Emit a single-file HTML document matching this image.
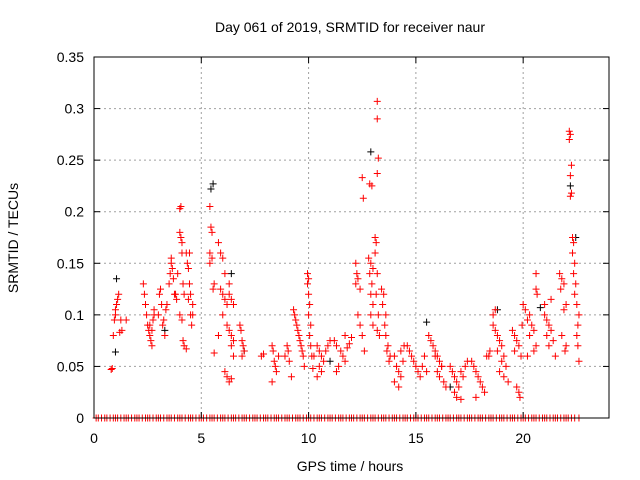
<!DOCTYPE html>
<html><head><meta charset="utf-8"><style>
body{margin:0;background:#fff;}
svg{display:block;font-family:"Liberation Sans",sans-serif;}
</style></head><body>
<svg id="chart" width="640" height="480" xmlns="http://www.w3.org/2000/svg">
<rect x="0" y="0" width="640" height="480" fill="#fff"/>
<g id="grid"></g>
<g id="black"></g>
<g id="red"></g>
<g id="axes"></g>
<text x="350" y="32" text-anchor="middle" font-size="14">Day 061 of 2019, SRMTID for receiver naur</text>
<text x="350" y="471" text-anchor="middle" font-size="14">GPS time / hours</text>
<text transform="translate(18,238) rotate(-90)" text-anchor="middle" font-size="14">SRMTID / TECUs</text>
</svg>
<script>
const xTicks=[0,5,10,15,20];
const yTicks=[0,0.05,0.1,0.15,0.2,0.25,0.3,0.35];
const yTickLabels=["0","0.05","0.1","0.15","0.2","0.25","0.3","0.35"];
const redPts=[
[0.8,0.047],[0.85,0.048],[0.9,0.08],[0.95,0.095],[1.0,0.1],[1.0,0.105],[1.05,0.11],[1.1,0.115],[1.15,0.12],[1.2,0.083],[1.3,0.085],[1.25,0.095],[1.5,0.095],
[2.3,0.13],[2.35,0.12],[2.4,0.11],[2.45,0.1],[2.5,0.09],[2.55,0.085],[2.6,0.08],[2.65,0.075],[2.7,0.07],[2.75,0.095],[2.8,0.1],[2.6,0.09],[2.7,0.085],[2.8,0.105],
[3.0,0.1],[3.05,0.12],[3.1,0.125],[3.15,0.11],[3.2,0.09],[3.3,0.08],[3.35,0.105],[3.4,0.11],[3.25,0.095],
[3.5,0.13],[3.55,0.14],[3.6,0.15],[3.65,0.145],[3.7,0.135],[3.75,0.12],[3.8,0.12],[3.85,0.115],[3.9,0.14],[3.6,0.155],
[4.0,0.203],[4.05,0.205],[4.0,0.18],[4.05,0.175],[4.1,0.17],[4.1,0.16],[4.0,0.1],[4.1,0.095],[4.15,0.075],[4.2,0.07],[4.2,0.12],[4.15,0.13],
[4.3,0.16],[4.45,0.16],[4.35,0.15],[4.4,0.145],[4.45,0.13],[4.5,0.12],[4.4,0.115],[4.5,0.1],[4.55,0.09],[4.3,0.067],[4.6,0.1],[4.6,0.11],
[5.4,0.205],[5.45,0.185],[5.5,0.18],[5.4,0.16],[5.5,0.155],[5.4,0.15],[5.6,0.13],[5.55,0.125],
[5.8,0.17],[5.9,0.16],[6.0,0.155],[6.1,0.14],[5.9,0.125],[6.0,0.12],[6.1,0.115],[6.2,0.11],[6.0,0.1],[5.8,0.08],[5.6,0.063],[6.1,0.045],[6.2,0.04],[6.3,0.035],[6.4,0.038],[6.3,0.13],[6.3,0.12],[6.4,0.115],[6.5,0.11],[6.4,0.07],[6.5,0.06],[6.2,0.09],[6.3,0.085],[6.4,0.08],[6.5,0.075],
[6.8,0.09],[6.85,0.085],[6.9,0.075],[6.95,0.07],[7.0,0.065],[6.9,0.06],
[7.8,0.06],[7.9,0.062],
[8.3,0.07],[8.35,0.065],[8.4,0.055],[8.45,0.05],[8.5,0.045],[8.3,0.035],[8.6,0.06],
[8.9,0.06],[9.0,0.07],[9.05,0.065],[9.1,0.055],[9.2,0.04],
[9.3,0.105],[9.35,0.1],[9.4,0.095],[9.45,0.09],[9.5,0.085],[9.55,0.08],[9.6,0.075],[9.65,0.07],[9.7,0.065],[9.75,0.06],[9.8,0.05],
[9.95,0.14],[10.0,0.135],[9.95,0.13],[10.0,0.12],[10.05,0.11],[10.0,0.1],[10.1,0.09],[10.05,0.08],[10.1,0.07],[10.15,0.06],[10.2,0.048],[10.25,0.06],
[10.4,0.07],[10.5,0.065],[10.6,0.06],[10.7,0.055],[10.5,0.05],[10.6,0.045],[10.4,0.04],[10.8,0.065],[10.9,0.07],[11.0,0.075],
[11.2,0.075],[11.3,0.07],[11.5,0.065],[11.6,0.06],[11.7,0.055],[11.4,0.05],[11.3,0.045],[11.8,0.068],[11.9,0.072],[12.0,0.078],[11.7,0.08],
[12.2,0.15],[12.25,0.14],[12.3,0.135],[12.2,0.13],[12.4,0.125],[12.3,0.1],[12.4,0.09],[12.5,0.08],[12.6,0.065],[12.5,0.233],[12.55,0.213],
[12.85,0.227],[12.95,0.225],[12.8,0.155],[12.9,0.15],[13.0,0.145],[12.85,0.14],[12.95,0.13],[12.9,0.12],[13.0,0.11],[12.9,0.1],[13.0,0.09],
[13.2,0.307],[13.2,0.29],[13.25,0.252],[13.2,0.237],[13.1,0.175],[13.15,0.17],[13.1,0.16],[13.2,0.14],[13.15,0.12],[13.25,0.1],[13.2,0.085],[13.3,0.08],
[13.4,0.125],[13.5,0.12],[13.45,0.11],[13.6,0.1],[13.55,0.09],[13.6,0.08],[13.7,0.07],[13.65,0.065],[13.8,0.06],[13.75,0.055],
[14.0,0.06],[14.1,0.05],[14.2,0.045],[14.3,0.04],[14.0,0.035],[14.2,0.03],[14.4,0.055],[14.45,0.07],[14.3,0.065],
[14.6,0.07],[14.7,0.065],[14.8,0.06],[14.9,0.055],[15.0,0.05],[15.1,0.045],[15.2,0.04],[15.3,0.05],[15.4,0.06],[15.5,0.045],
[15.7,0.075],[15.8,0.07],[15.9,0.065],[16.0,0.06],[16.1,0.055],[16.2,0.05],[16.0,0.045],[16.1,0.04],[16.3,0.035],[16.4,0.03],[15.6,0.08],[15.9,0.06],[16.2,0.05],
[16.6,0.05],[16.7,0.045],[16.8,0.04],[16.9,0.035],[17.0,0.03],[16.8,0.025],[16.9,0.02],[17.1,0.018],[17.2,0.04],[17.3,0.05],[17.4,0.055],[17.1,0.045],
[17.6,0.055],[17.7,0.05],[17.8,0.045],[17.9,0.04],[18.0,0.035],[18.1,0.03],[18.2,0.025],[17.8,0.02],[18.3,0.06],[18.4,0.06],[18.45,0.065],
[18.6,0.1],[18.7,0.105],[18.6,0.09],[18.7,0.085],[18.8,0.08],[18.9,0.075],[19.0,0.07],[18.8,0.065],[19.1,0.06],[19.0,0.055],[19.2,0.05],[18.9,0.045],[19.1,0.04],[19.3,0.035],
[19.5,0.085],[19.6,0.08],[19.7,0.075],[19.8,0.07],[19.6,0.065],[19.9,0.06],[19.7,0.03],[19.8,0.025],[19.85,0.02],[19.95,0.09],
[20.0,0.11],[20.1,0.105],[20.3,0.1],[20.2,0.095],[20.4,0.09],[20.5,0.085],[20.3,0.08],[20.6,0.07],[20.5,0.065],[20.2,0.06],[20.6,0.125],[20.65,0.12],[20.6,0.14],
[21.0,0.1],[21.1,0.095],[21.2,0.09],[21.3,0.085],[21.1,0.08],[21.4,0.075],[21.2,0.07],[21.5,0.06],[21.0,0.11],[21.3,0.115],
[21.7,0.14],[21.8,0.135],[21.9,0.13],[21.75,0.125],[22.0,0.11],[21.9,0.105],[21.8,0.08],[22.0,0.07],[21.95,0.065],
[22.15,0.278],[22.2,0.275],[22.15,0.27],[22.25,0.245],[22.2,0.235],[22.25,0.218],[22.2,0.215],[22.3,0.175],[22.35,0.17],[22.3,0.16],[22.4,0.15],[22.35,0.14],[22.45,0.13],[22.4,0.12],[22.5,0.11],[22.6,0.1],[22.55,0.09],[22.5,0.08],[22.55,0.07],[22.6,0.055]
];
const blackPts=[[1.0,0.064],[1.05,0.135],[5.45,0.222],[5.55,0.227],[12.9,0.258],[22.2,0.225],[22.45,0.175],[3.3,0.085],[15.5,0.093],[16.6,0.03],[6.4,0.14],[11.0,0.055],[20.8,0.107],[7.0,0.065],[18.8,0.105]];
const zeroTimes=[0.1,0.2,0.35,0.5,0.6,0.75,0.9,1.0,1.1,1.25,1.4,1.5,1.6,1.75,1.9,2.0,2.1,2.25,2.4,2.5,2.6,2.75,2.9,3.0,3.1,3.25,3.4,3.5,3.6,3.75,3.9,4.0,4.1,4.25,4.4,4.5,4.6,4.75,4.9,5.0,5.1,5.25,5.4,5.5,5.6,5.75,5.9,6.0,6.1,6.25,6.4,6.5,6.6,6.75,6.9,7.0,7.1,7.25,7.4,7.5,7.6,7.75,7.9,8.0,8.1,8.25,8.4,8.5,8.6,8.75,8.9,9.0,9.1,9.25,9.4,9.5,9.6,9.75,9.9,10.0,10.1,10.25,10.4,10.5,10.6,10.75,10.9,11.0,11.1,11.25,11.4,11.5,11.6,11.75,11.9,12.0,12.1,12.25,12.4,12.5,12.6,12.75,12.9,13.0,13.1,13.25,13.4,13.5,13.6,13.75,13.9,14.0,14.1,14.25,14.4,14.5,14.6,14.75,14.9,15.0,15.1,15.25,15.4,15.5,15.6,15.75,15.9,16.0,16.1,16.25,16.4,16.5,16.6,16.75,16.9,17.0,17.1,17.25,17.4,17.5,17.6,17.75,17.9,18.0,18.1,18.25,18.4,18.5,18.6,18.75,18.9,19.0,19.1,19.25,19.4,19.5,19.6,19.75,19.9,20.0,20.1,20.25,20.4,20.5,20.6,20.75,20.9,21.0,21.1,21.25,21.4,21.5,21.6,21.75,21.9,22.0,22.1,22.25,22.4,22.6];
const L=94,R=609,T=57,B=418,XMAX=24,YMAX=0.35;
function sx(t){return L+(R-L)*t/XMAX;}
function sy(v){return B-(B-T)*v/YMAX;}
const NS='http://www.w3.org/2000/svg';
function mk(tag,attrs,parent){const e=document.createElementNS(NS,tag);for(const k in attrs)e.setAttribute(k,attrs[k]);parent.appendChild(e);return e;}
const grid=document.getElementById('grid'),axes=document.getElementById('axes');
xTicks.forEach((t,i)=>{
 if(t>0){const g=mk('line',{x1:sx(t),x2:sx(t),y1:T,y2:B,stroke:'#a0a0a0','stroke-dasharray':'2,3'},grid);
 
 }
 mk('line',{x1:sx(t),x2:sx(t),y1:B,y2:B-6,stroke:'#000'},axes);
 mk('line',{x1:sx(t),x2:sx(t),y1:T,y2:T+6,stroke:'#000'},axes);
 const tx=mk('text',{x:sx(t),y:B+25,'text-anchor':'middle','font-size':'14'},axes);
 tx.textContent=String(t);
 
 
});
yTicks.forEach((v,i)=>{
 if(v>0&&v<YMAX){const g=mk('line',{x1:L,x2:R,y1:sy(v),y2:sy(v),stroke:'#a0a0a0','stroke-dasharray':'2,3'},grid);
 
 }
 mk('line',{x1:L,x2:L+6,y1:sy(v),y2:sy(v),stroke:'#000'},axes);
 mk('line',{x1:R,x2:R-6,y1:sy(v),y2:sy(v),stroke:'#000'},axes);
 const tx=mk('text',{x:L-10,y:sy(v)+5,'text-anchor':'end','font-size':'14'},axes);
 tx.textContent=yTickLabels[i];
 
 
});
const fr=mk('rect',{x:L,y:T,width:R-L,height:B-T,fill:'none',stroke:'#000'},axes);


function plus(t,v,color,parent){
 const x=sx(t),y=sy(v);
 const p=mk('path',{d:`M${x-3.5},${y}H${x+3.5}M${x},${y-3.5}V${y+3.5}`,stroke:color,'stroke-width':'1',fill:'none'},parent);
 
 
}
const bg=document.getElementById('black'),rg=document.getElementById('red');
blackPts.forEach(p=>plus(p[0],p[1],'#000',bg));
redPts.forEach(p=>plus(p[0],p[1],'#ff0000',rg));
zeroTimes.forEach(t=>plus(t,0,'#ff0000',rg));
</script>
</body></html>
